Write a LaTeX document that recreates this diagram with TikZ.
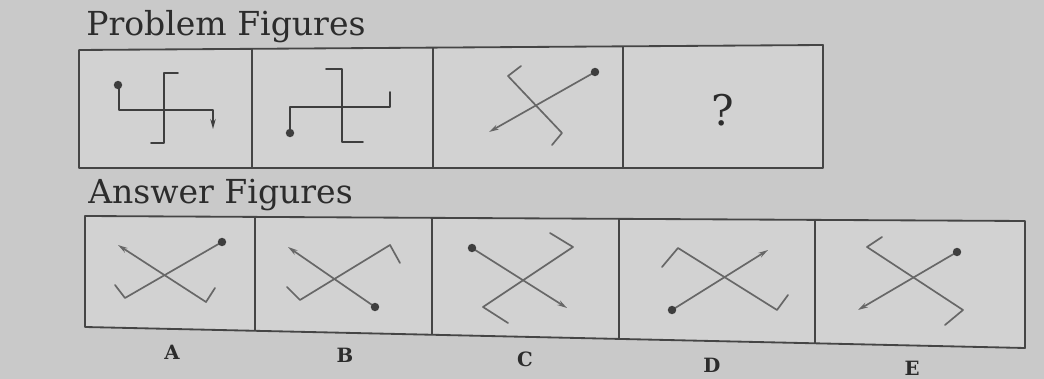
\documentclass[tikz,border=0pt]{standalone}
\usepackage{fontspec}
\setmainfont{DejaVu Serif}
\usepackage{xcolor}
\definecolor{paper}{HTML}{C9C9C9}
\definecolor{boxbg}{HTML}{D2D2D2}
\definecolor{boxline}{HTML}{454545}
\definecolor{figdark}{HTML}{3E3E3E}
\definecolor{figgray}{HTML}{676767}
\definecolor{inkgray}{HTML}{2C2C2C}
\usepackage{tikz}
\usetikzlibrary{arrows.meta, calc}

\begin{document}
\begin{tikzpicture}[x=0.025cm, y=-0.025cm]
\tikzstyle{frame}=[draw=boxline, line width=1.3pt, line join=round]
\tikzstyle{figline}=[draw=figgray, line width=1.2pt, line cap=round, line join=round]
\tikzstyle{darkline}=[figline, draw=figdark]
\tikzstyle{arrowend}=[-{Stealth[length=7pt,width=3.8pt]}]
\tikzstyle{heading}=[anchor=base west, inner sep=0pt, text=inkgray, font=\fontsize{23.5}{26}\selectfont]
\tikzstyle{letter}=[inner sep=0pt, text=inkgray, font=\fontsize{14}{16}\selectfont\bfseries]
\useasboundingbox (0,0) rectangle (1044,379);
\fill[paper] (0,0) rectangle (1044,379);

\node[heading] (probtitle) at (86,36) {Problem Figures};
\node[heading] (anstitle) at (88,204) {Answer Figures};

\coordinate (ptl) at (79,50);
\coordinate (ptr) at (823,45);
\coordinate (pbr) at (823,168);
\coordinate (pbl) at (79,168);
\fill[boxbg] (ptl) -- (ptr) -- (pbr) -- (pbl) -- cycle;
\draw[frame] (ptl) -- (ptr) -- (pbr) -- (pbl) -- cycle;
\foreach \f in {0.2325,0.476,0.731}
  \draw[frame] ($(ptl)!\f!(ptr)$) -- ($(pbl)!\f!(pbr)$);

\coordinate (atl) at (85,216);
\coordinate (atr) at (1025,221);
\coordinate (abr) at (1025,348);
\coordinate (abl) at (85,327);
\fill[boxbg] (atl) -- (atr) -- (abr) -- (abl) -- cycle;
\draw[frame] (atl) -- (atr) -- (abr) -- (abl) -- cycle;
\foreach \f in {0.181,0.369,0.568,0.777}
  \draw[frame] ($(atl)!\f!(atr)$) -- ($(abl)!\f!(abr)$);

\draw[darkline, arrowend] (119,86) -- (119,110) -- (213,110) -- (213,129);
\draw[darkline] (178,73) -- (164,73) -- (164,143) -- (151,143);
\fill[figdark] (118,85) circle (3pt);

\draw[darkline] (290,133) -- (290,107) -- (390,107) -- (390,92);
\draw[darkline] (326,69) -- (342,69) -- (342,142) -- (363,142);
\fill[figdark] (290,133) circle (3pt);

\draw[figline, arrowend] (595,72) -- (489,132);
\draw[figline] (521,66) -- (508,76) -- (562,133) -- (552,145);
\fill[figdark] (595,72) circle (3pt);

\node[font=\fontsize{30}{34}\selectfont, text=inkgray, inner sep=0pt] (qmark) at (723,110) {?};

\draw[figline, arrowend] (215,288) -- (206,302) -- (118,245);
\draw[figline] (222,242) -- (125,298) -- (115,285);
\fill[figdark] (222,242) circle (3pt);

\draw[figline, arrowend] (375,307) -- (288,247);
\draw[figline] (287,287) -- (300,300) -- (390,245) -- (400,263);
\fill[figdark] (375,307) circle (3pt);

\draw[figline, arrowend] (472,248) -- (567,308);
\draw[figline] (550,233) -- (573,247) -- (483,307) -- (508,323);
\fill[figdark] (472,248) circle (3pt);

\draw[figline, arrowend] (672,310) -- (768,250);
\draw[figline] (662,267) -- (678,248) -- (777,310) -- (788,295);
\fill[figdark] (672,310) circle (3pt);

\draw[figline, arrowend] (957,252) -- (858,310);
\draw[figline] (882,237) -- (867,247) -- (963,310) -- (945,325);
\fill[figdark] (957,252) circle (3pt);

\node[letter] (la) at (172,352) {A};
\node[letter] (lb) at (345,355) {B};
\node[letter] (lc) at (525,359) {C};
\node[letter] (ld) at (712,365) {D};
\node[letter] (le) at (912,368) {E};
\end{tikzpicture}
\end{document}
